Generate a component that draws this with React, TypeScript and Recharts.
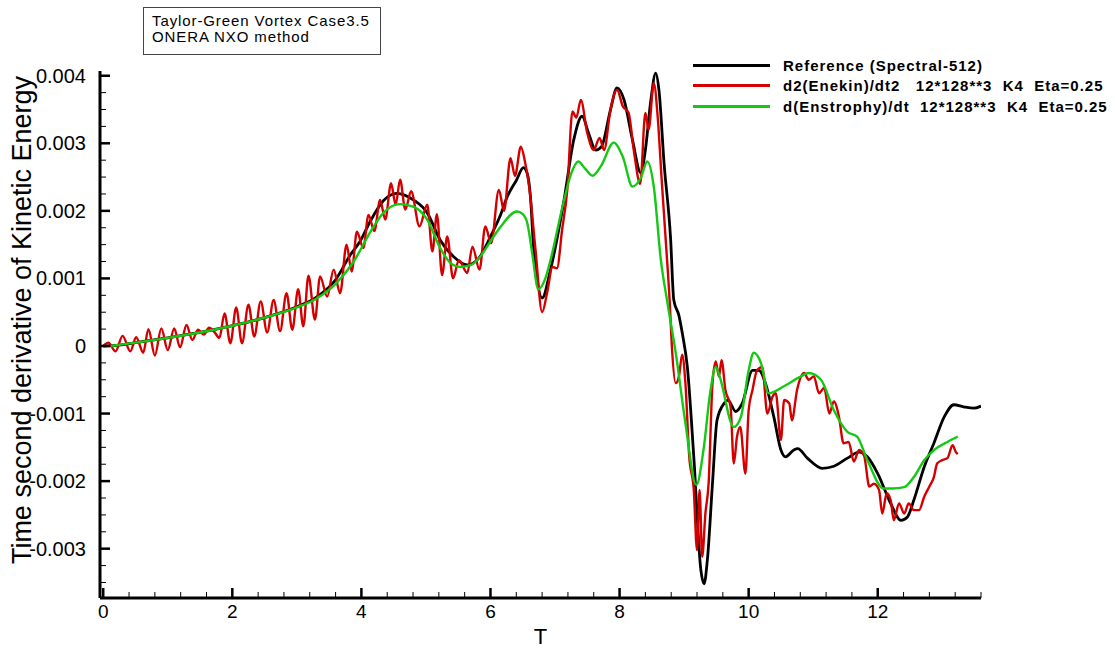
import { LineChart, Line, XAxis, YAxis } from "recharts"

// T values and curve values (units: dE²/dt²)
const refT = [
  0, 0.2, 0.5, 1.0, 1.5, 2.0, 2.5, 3.0, 3.3, 3.6,
  3.83, 3.98, 4.14, 4.34, 4.55, 4.81, 5.02, 5.22, 5.43, 5.64,
  5.82, 6.0, 6.16, 6.26, 6.4, 6.51, 6.57, 6.62, 6.67, 6.72,
  6.8, 6.93, 7.14, 7.29, 7.42, 7.52, 7.63, 7.72, 7.86, 7.96,
  8.07, 8.2, 8.33, 8.4, 8.48, 8.56, 8.61, 8.69, 8.79, 8.84,
  8.92, 8.97, 9.05, 9.15, 9.26, 9.31, 9.36, 9.44, 9.51, 9.62,
  9.68, 9.8, 9.9, 10.06, 10.16, 10.26, 10.39, 10.5, 10.57, 10.7,
  10.76, 10.91, 11.14, 11.32, 11.53, 11.71, 11.84, 12.0, 12.2, 12.36,
  12.46, 12.56, 12.72, 12.87, 13.03, 13.18, 13.33, 13.49, 13.6
]
const refV = [
  0, 0.00001, 0.00005, 0.00012, 0.0002, 0.0003, 0.00042, 0.00058, 0.00072, 0.00098,
  0.00135, 0.00155, 0.00185, 0.00215, 0.00226, 0.00216, 0.00197, 0.00157, 0.00132, 0.0012,
  0.0013, 0.00162, 0.00195, 0.00221, 0.00245, 0.00264, 0.00255, 0.0022, 0.00142, 0.001,
  0.00071, 0.00113, 0.00216, 0.00305, 0.0034, 0.00315, 0.0029, 0.00295, 0.0035, 0.00382,
  0.00364, 0.00305, 0.00256, 0.0029, 0.0036, 0.00404, 0.00379, 0.0027, 0.0016, 0.00068,
  0.00045, 0.0002, -0.00031, -0.00164, -0.00332, -0.00352, -0.00317, -0.00203, -0.0011, -0.00085,
  -0.0008, -0.00097, -0.00085, -0.00036, -0.00036, -0.00055, -0.00105, -0.00154, -0.00164, -0.00154,
  -0.00152, -0.00166, -0.00181, -0.00178, -0.00166, -0.00157, -0.00164, -0.00189, -0.00233, -0.00258,
  -0.00253, -0.00228, -0.00179, -0.00144, -0.00105, -0.00087, -0.0009, -0.00092, -0.00089
]

const enekinT = [
  0, 0.08, 0.19, 0.3, 0.42, 0.51, 0.62, 0.7, 0.8, 0.9,
  1.0, 1.1, 1.19, 1.29, 1.38, 1.47, 1.56, 1.64, 1.72, 1.8,
  1.88, 1.97, 2.06, 2.15, 2.25, 2.34, 2.44, 2.54, 2.64, 2.74,
  2.84, 2.93, 3.02, 3.1, 3.18, 3.28, 3.36, 3.47, 3.57, 3.67,
  3.77, 3.85, 3.93, 4.03, 4.11, 4.2, 4.29, 4.37, 4.46, 4.53,
  4.6, 4.68, 4.77, 4.9, 5.02, 5.1, 5.17, 5.25, 5.33, 5.42,
  5.51, 5.64, 5.72, 5.83, 5.92, 6.01, 6.13, 6.21, 6.31, 6.38,
  6.47, 6.53, 6.6, 6.7, 6.8, 6.88, 6.96, 7.03, 7.11, 7.19,
  7.27, 7.33, 7.4, 7.5, 7.6, 7.69, 7.76, 7.86, 7.96, 8.05,
  8.14, 8.22, 8.32, 8.4, 8.45, 8.53, 8.59, 8.65, 8.72, 8.78,
  8.81, 8.87, 8.92, 8.97, 9.02, 9.08, 9.15, 9.2, 9.24, 9.28,
  9.33, 9.38, 9.44, 9.49, 9.54, 9.58, 9.64, 9.72, 9.77, 9.82,
  9.87, 9.95, 10.0, 10.06, 10.13, 10.21, 10.29, 10.37, 10.42, 10.5,
  10.55, 10.63, 10.67, 10.75, 10.86, 10.93, 11.01, 11.09, 11.17, 11.25,
  11.32, 11.4, 11.47, 11.55, 11.63, 11.71, 11.79, 11.87, 11.94, 12.02,
  12.07, 12.14, 12.2, 12.25, 12.33, 12.41, 12.48, 12.56, 12.64, 12.72,
  12.8, 12.87, 12.92, 13.0, 13.08, 13.16, 13.21, 13.24
]
const enekinV = [
  0, 0.00005, -0.00008, 0.00015, -0.00008, 0.00013, -0.0001, 0.00025, -0.00014, 0.00026,
  -0.00006, 0.00026, -0.00002, 0.00031, 0.00009, 0.00024, 0.00017, 0.00027, 0.00021, 0.00012,
  0.00048, 0.00004, 0.00057, 0.00004, 0.00061, 0.00014, 0.00066, 0.0002, 0.00068, 0.00022,
  0.00078, 0.00024, 0.00084, 0.00029, 0.00104, 0.00039, 0.00103, 0.00073, 0.00113, 0.00078,
  0.0015, 0.0011, 0.00169, 0.00145, 0.00194, 0.0017, 0.00216, 0.00187, 0.00241, 0.00209,
  0.00246, 0.00202, 0.00229, 0.00177, 0.00209, 0.0014, 0.00195, 0.00105, 0.00162, 0.001,
  0.00127, 0.00108, 0.00147, 0.00113, 0.00177, 0.00152, 0.00231, 0.002, 0.00278, 0.00252,
  0.00295, 0.00275, 0.00236, 0.0014, 0.0005, 0.0008, 0.00117, 0.00115, 0.00172, 0.00231,
  0.00347, 0.00338, 0.00364, 0.00315, 0.0029, 0.00308, 0.0029, 0.0035, 0.00379, 0.00355,
  0.00345, 0.0029, 0.0024, 0.00345, 0.0032, 0.00389, 0.0034, 0.0025, 0.0015, 0.0006,
  0, -0.00055, -0.00045, -0.00013, -0.00055, -0.00164, -0.00213, -0.00302, -0.00213, -0.00312,
  -0.00248, -0.00203, -0.00055, -0.00023, -0.00045, -0.00021, -0.00065, -0.0009, -0.00174, -0.00134,
  -0.0012, -0.00189, -0.00095, -0.00065, -0.00036, -0.00031, -0.001, -0.00075, -0.0007, -0.00139,
  -0.0008, -0.00085, -0.0011, -0.00065, -0.0004, -0.0005, -0.00045, -0.0007, -0.00062, -0.001,
  -0.00082, -0.00105, -0.00144, -0.00142, -0.00171, -0.00154, -0.00163, -0.00208, -0.00204, -0.00213,
  -0.00248, -0.00218, -0.00228, -0.00258, -0.00233, -0.00248, -0.00233, -0.00243, -0.00243, -0.00223,
  -0.00208, -0.00194, -0.00174, -0.00169, -0.00166, -0.00147, -0.00157, -0.0016
]

const enstT = [
  0.12, 0.5, 1.0, 1.5, 2.0, 2.5, 3.0, 3.3, 3.6, 3.9,
  4.14, 4.34, 4.6, 4.81, 5.02, 5.22, 5.38, 5.53, 5.7, 5.84,
  6.0, 6.16, 6.41, 6.5, 6.57, 6.65, 6.74, 6.85, 6.93, 7.13,
  7.25, 7.36, 7.47, 7.58, 7.71, 7.91, 8.05, 8.2, 8.33, 8.43,
  8.53, 8.64, 8.74, 8.87, 9.02, 9.19, 9.3, 9.41, 9.49, 9.55,
  9.77, 9.88, 10.0, 10.08, 10.19, 10.31, 10.54, 10.81, 10.93, 11.12,
  11.32, 11.53, 11.68, 11.84, 12.09, 12.23, 12.41, 12.56, 12.72, 12.87,
  13.08, 13.24
]
const enstV = [
  0, 0.00005, 0.00012, 0.0002, 0.0003, 0.00042, 0.00057, 0.0007, 0.00092, 0.00128,
  0.00169, 0.00197, 0.0021, 0.00206, 0.00187, 0.00145, 0.00123, 0.00117, 0.0012, 0.00132,
  0.00155, 0.00177, 0.00199, 0.00195, 0.00182, 0.00135, 0.00084, 0.001, 0.00127, 0.00212,
  0.00255, 0.00273, 0.00262, 0.00252, 0.00266, 0.00301, 0.0028, 0.00236, 0.00249, 0.00273,
  0.00236, 0.00127, 0.00065, -0.0001, -0.00114, -0.00206, -0.00154, -0.00065, -0.00031, -0.00045,
  -0.0012, -0.00105, -0.00036, -0.0001, -0.00025, -0.0007, -0.0006, -0.00045, -0.0004, -0.0005,
  -0.00095, -0.00127, -0.00134, -0.00169, -0.00211, -0.00211, -0.00209, -0.00194, -0.00169, -0.00154,
  -0.00142, -0.00134
]

const xMajor = [0, 2, 4, 6, 8, 10, 12]
const xMinor = Array.from({ length: 35 }, (_, i) => Math.round(i * 4) / 10)
const yMajor = [-0.003, -0.002, -0.001, 0, 0.001, 0.002, 0.003, 0.004]
const yMajorLabels = ["-0.003", "-0.002", "-0.001", "0", "0.001", "0.002", "0.003", "0.004"]
const yMinor = Array.from({ length: 31 }, (_, i) => Number((-0.0035 + i * 0.00025).toFixed(5)))

const seriesNames = [
  "Reference (Spectral-512)",
  "d2(Enekin)/dt2   12*128**3  K4  Eta=0.25",
  "d(Enstrophy)/dt  12*128**3  K4  Eta=0.25"
]
const seriesColors = ["#000000", "#d40000", "#14c814"]

const FONT = "'Liberation Sans', Arial, Helvetica, sans-serif"

const zip = (ts: number[], vs: number[]) => ts.map((t, i) => ({ t, v: vs[i] }))

const refData = zip(refT, refV)
const enekinData = zip(enekinT, enekinV)
const enstData = zip(enstT, enstV)

const isIn = (list: number[], value: number) =>
  list.findIndex((m) => Math.abs(m - value) < 1e-7)

function XTick(props: any) {
  const { x, y, payload } = props
  const major = isIn(xMajor, payload.value) >= 0
  return (
    <g>
      <line
        x1={x}
        x2={x}
        y1={y}
        y2={y - (major ? 10 : 6)}
        stroke="#000"
        strokeWidth={major ? 2.5 : 1}
      />
      {major && (
        <text x={x} y={y + 20} textAnchor="middle" fontSize={19} fontFamily={FONT} fill="#000">
          {payload.value}
        </text>
      )}
    </g>
  )
}

function YTick(props: any) {
  const { x, y, payload } = props
  const idx = isIn(yMajor, payload.value)
  const major = idx >= 0
  return (
    <g>
      <line
        x1={x}
        x2={x + (major ? 10 : 6)}
        y1={y}
        y2={y}
        stroke="#000"
        strokeWidth={major ? 2.5 : 1}
      />
      {major && (
        <text x={x - 14} y={y + 7} textAnchor="end" fontSize={20} fontFamily={FONT} fill="#000">
          {yMajorLabels[idx]}
        </text>
      )}
    </g>
  )
}

export default function App() {
  return (
    <div
      style={{
        position: "absolute",
        left: 0,
        top: 0,
        width: 1115,
        height: 670,
        background: "#fff",
        fontFamily: FONT
      }}
    >
      <LineChart
        width={1115}
        height={670}
        margin={{ top: 71, right: 134, bottom: 0, left: 0 }}
      >
        <XAxis
          type="number"
          dataKey="t"
          domain={[-0.05, 13.6]}
          ticks={xMinor}
          interval={0}
          allowDataOverflow
          height={72}
          tickSize={0}
          tickMargin={0}
          tickLine={false}
          tick={<XTick />}
          axisLine={{ stroke: "#000", strokeWidth: 3 }}
          label={{
            value: "T",
            position: "insideBottom",
            offset: 26,
            fontSize: 22,
            fill: "#000",
            fontFamily: FONT
          }}
        />

        <YAxis
          type="number"
          dataKey="v"
          domain={[-0.00373, 0.00407]}
          ticks={yMinor}
          interval={0}
          allowDataOverflow
          width={100}
          tickSize={0}
          tickMargin={0}
          tickLine={false}
          tick={<YTick />}
          axisLine={{ stroke: "#000", strokeWidth: 3 }}
          label={{
            content: () => (
              <text
                transform="translate(31,320) rotate(-90)"
                textAnchor="middle"
                fontSize={27}
                fontFamily={FONT}
                fill="#000"
              >
                Time second derivative of Kinetic Energy
              </text>
            )
          }}
        />

        <Line
          data={refData}
          dataKey="v"
          type="monotone"
          stroke={seriesColors[0]}
          strokeWidth={2.8}
          dot={false}
          isAnimationActive={false}
        />
        <Line
          data={enekinData}
          dataKey="v"
          type="monotone"
          stroke={seriesColors[1]}
          strokeWidth={2.4}
          dot={false}
          isAnimationActive={false}
        />
        <Line
          data={enstData}
          dataKey="v"
          type="monotone"
          stroke={seriesColors[2]}
          strokeWidth={2.4}
          dot={false}
          isAnimationActive={false}
        />
      </LineChart>

      <div
        style={{
          position: "absolute",
          left: 143,
          top: 7,
          width: 238,
          height: 48,
          border: "1px solid #444",
          padding: "5px 0 0 8px",
          boxSizing: "border-box",
          fontSize: 15,
          lineHeight: "16px",
          letterSpacing: 0.9,
          color: "#000"
        }}
      >
        <div>Taylor-Green Vortex Case3.5</div>
        <div>ONERA NXO method</div>
      </div>

      <div style={{ position: "absolute", left: 693, top: 55 }}>
        {seriesNames.map((name, i) => (
          <div
            key={name}
            style={{
              display: "flex",
              alignItems: "center",
              height: 20.5,
              whiteSpace: "pre"
            }}
          >
            <div style={{ width: 77, height: 3, background: seriesColors[i] }} />
            <span
              style={{
                marginLeft: 13,
                fontSize: 15,
                fontWeight: "bold",
                letterSpacing: 1,
                color: "#000"
              }}
            >
              {name}
            </span>
          </div>
        ))}
      </div>
    </div>
  )
}
